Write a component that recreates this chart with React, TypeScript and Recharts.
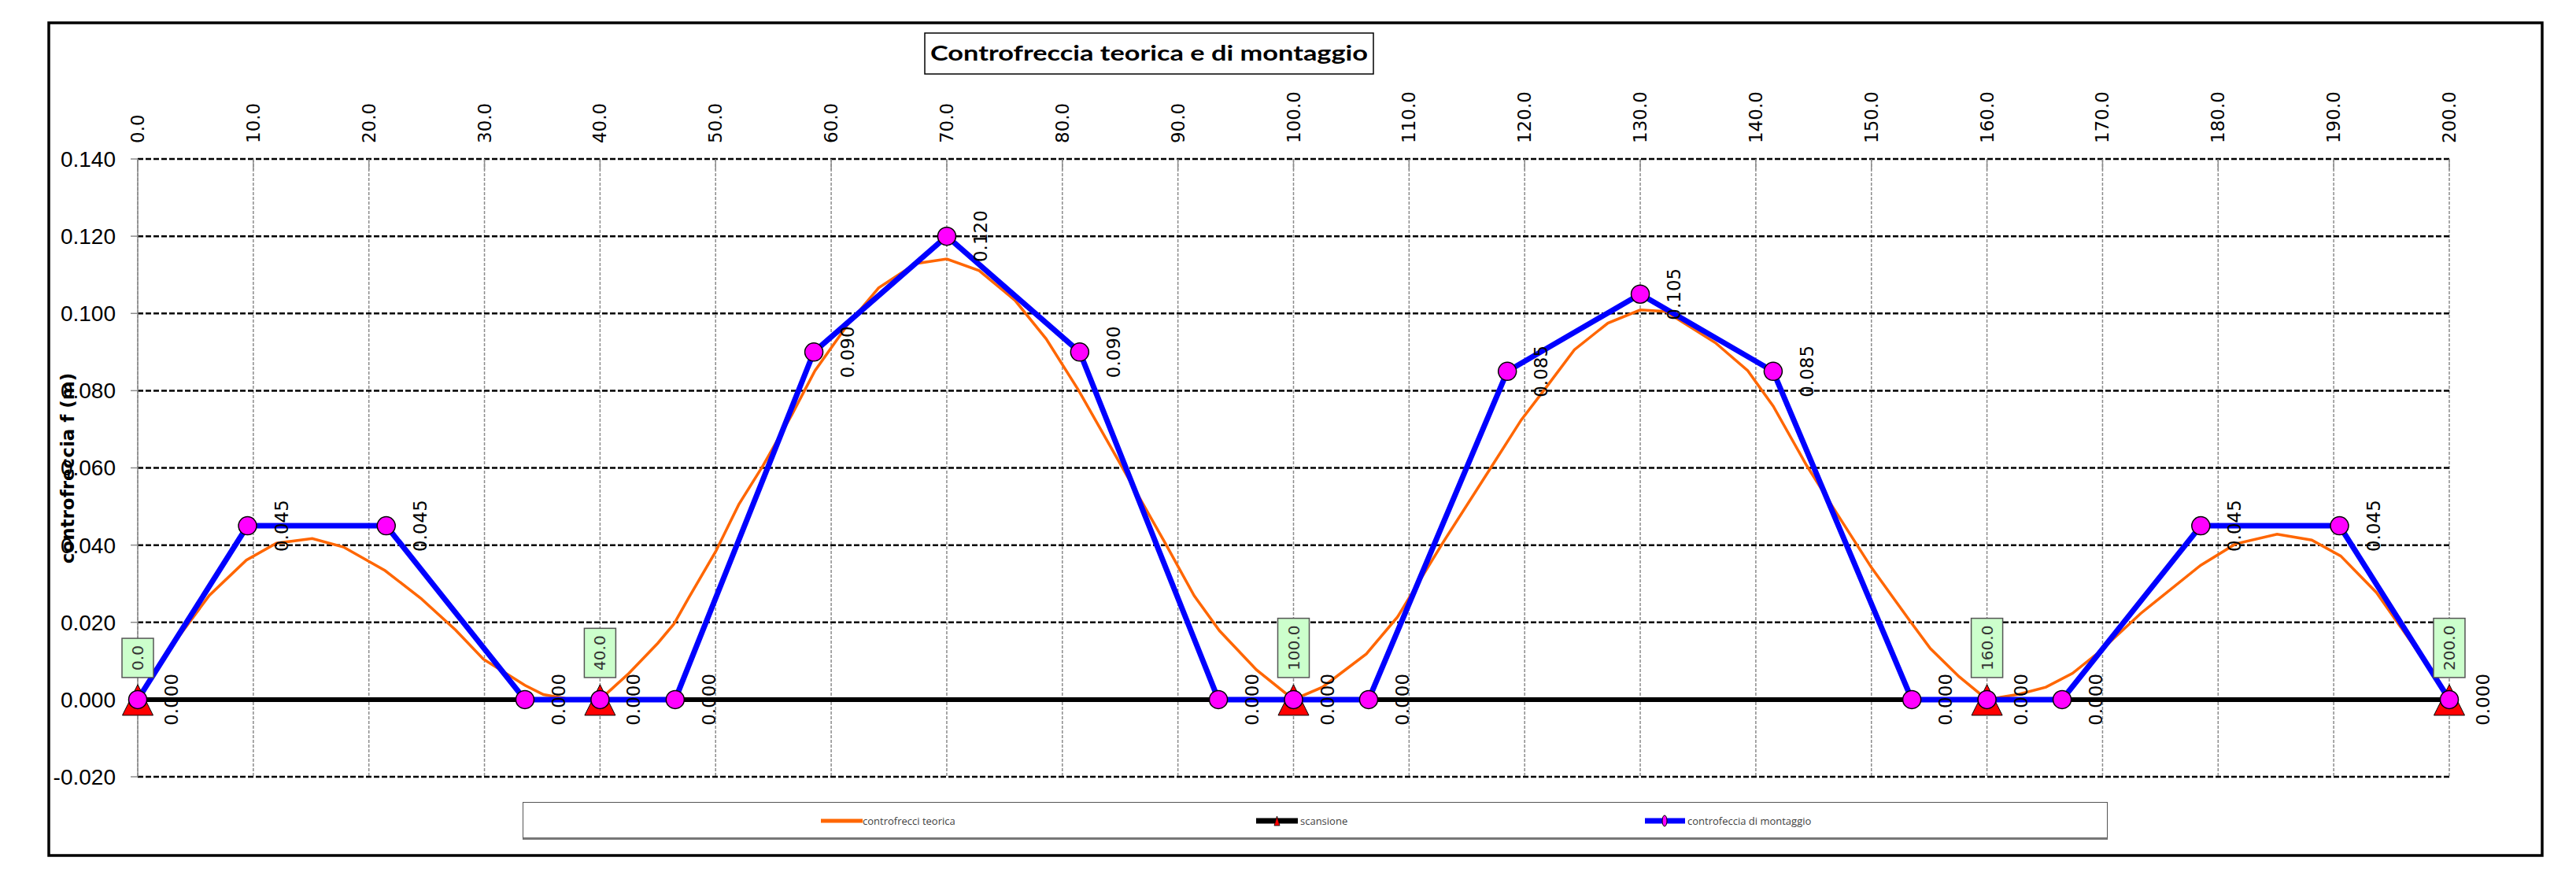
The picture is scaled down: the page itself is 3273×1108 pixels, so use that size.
import React from "react";
import { LineChart, Line, XAxis, YAxis, CartesianGrid, Legend, LabelList } from "recharts";

// ascisse progressive (m) e valori di controfreccia (m)
const xTicks = [0, 10, 20, 30, 40, 50, 60, 70, 80, 90, 100, 110, 120, 130, 140, 150, 160, 170, 180, 190, 200];
const yTicks = [-0.02, 0, 0.02, 0.04, 0.06, 0.08, 0.1, 0.12, 0.14];

const teoricaX = [
  0, 3.1, 6.2, 9.4, 12.0, 15.1, 17.8, 21.4, 24.5, 27.5, 29.9, 33.5, 35.1, 37.0, 40.0,
  42.5, 45.0, 46.4, 47.7, 50.0, 52.0, 54.1, 56.6, 58.6, 61.4, 64.1, 67.3, 70.0,
  72.8, 75.9, 78.6, 81.4, 83.9, 86.4, 88.9, 91.4, 93.6, 96.8, 100.0,
  102.5, 104.0, 106.3, 109.0, 112.9, 117.0, 119.7, 121.8, 124.3, 127.2, 130.0,
  132.2, 136.5, 139.3, 141.5, 144.4, 146.9, 150.0, 153.3, 155.1, 157.6, 160.0,
  162.8, 165.1, 167.4, 169.7, 173.3, 178.5, 181.5, 185.1, 188.1, 190.6, 193.7, 196.8, 200.0,
];
const teoricaY = [
  0, 0.0145, 0.027, 0.0361, 0.0405, 0.0417, 0.0395, 0.0334, 0.0262, 0.018, 0.0105, 0.0037, 0.0013, 0.0003, 0,
  0.0068, 0.0146, 0.0196, 0.0265, 0.0383, 0.0505, 0.0606, 0.0738, 0.0852, 0.097, 0.1066, 0.1129, 0.1141,
  0.1111, 0.1034, 0.0934, 0.0801, 0.0669, 0.0537, 0.0405, 0.0269, 0.0178, 0.0077, 0,
  0.0032, 0.0066, 0.0118, 0.0214, 0.0405, 0.0597, 0.0724, 0.0806, 0.0906, 0.0975, 0.1009,
  0.1005, 0.0924, 0.0852, 0.076, 0.0606, 0.0487, 0.0342, 0.0205, 0.0132, 0.0059, 0,
  0.0014, 0.0032, 0.0068, 0.0123, 0.0223, 0.0348, 0.0403, 0.0428, 0.0413, 0.0372, 0.0277, 0.0145, 0,
];

const montaggioX = [0, 9.5, 21.5, 33.5, 40, 46.5, 58.5, 70, 81.5, 93.5, 100, 106.5, 118.5, 130, 141.5, 153.5, 160, 166.5, 178.5, 190.5, 200];
const montaggioY = [0, 0.045, 0.045, 0, 0, 0, 0.09, 0.12, 0.09, 0, 0, 0, 0.085, 0.105, 0.085, 0, 0, 0, 0.045, 0.045, 0];

const appoggiX = [0, 40, 100, 160, 200];
const appoggiY = [0, 0, 0, 0, 0];

const teoricaData = teoricaX.map((x, i) => ({ x, teorica: teoricaY[i] }));
const montaggioData = montaggioX.map((x, i) => ({ x, montaggio: montaggioY[i] }));
const scansioneData = appoggiX.map((x, i) => ({ x, scansione: appoggiY[i] }));

const labelFont = "DejaVu Sans, Verdana, sans-serif";

function TopTick(props: any) {
  const { x, y, payload } = props;
  const ty = y - 20;
  return (
    <g>
      <line x1={x} x2={x} y1={y} y2={y + 14} stroke="#8c8c8c" strokeWidth={1.5} />
      <text x={x} y={ty} transform={`rotate(-90 ${x} ${ty})`} textAnchor="start" dy="0.35em" fontSize={23} fontFamily={labelFont} fill="#000">
        {Number(payload.value).toFixed(1)}
      </text>
    </g>
  );
}

function Triangle(props: any) {
  const { cx, cy, index } = props;
  return (
    <path key={`tri-${index}`} d={`M${cx},${cy - 19} L${cx + 19.5},${cy + 20} L${cx - 19.5},${cy + 20} Z`} fill="#ff0000" stroke="#000" strokeWidth={1} />
  );
}

function MagentaDot(props: any) {
  const { cx, cy, index } = props;
  return <circle key={`dot-${index}`} cx={cx} cy={cy} r={11.5} fill="#ff00ff" stroke="#000" strokeWidth={1.5} />;
}

function ValueLabel(props: any) {
  const { x, y, value } = props;
  const lx = x + 43;
  return (
    <text x={lx} y={y} transform={`rotate(-90 ${lx} ${y})`} textAnchor="middle" dy="0.35em" fontSize={23} fontFamily={labelFont} fill="#000">
      {Number(value).toFixed(3)}
    </text>
  );
}

function SupportLabel(props: any) {
  const { x, y, value } = props;
  const s = Number(value).toFixed(1);
  const digits = s.length - 1;
  const len = digits * 12.72 + 6.36;
  const h = len + 18;
  const bottom = y - 28;
  const ty = bottom - 9;
  return (
    <g>
      <rect x={x - 20} y={bottom - h} width={40} height={h} fill="#ccffcc" stroke="#555" strokeWidth={1.5} />
      <text x={x} y={ty} transform={`rotate(-90 ${x} ${ty})`} textAnchor="start" dy="0.35em" fontSize={20} fontFamily={labelFont} fill="#333">
        {s}
      </text>
    </g>
  );
}

function LegendBox() {
  const textStyle: React.CSSProperties = {
    position: "absolute",
    top: 14,
    fontSize: 13,
    fontFamily: "Open Sans, sans-serif",
    color: "#404040",
    whiteSpace: "nowrap",
  };
  return (
    <div
      style={{
        position: "relative",
        width: 2014,
        height: 48,
        boxSizing: "border-box",
        border: "1.5px solid #555",
        borderBottom: "3px solid #777",
        background: "#fff",
      }}
    >
      <svg width={2014} height={44} style={{ position: "absolute", left: 0, top: 0 }}>
        <line x1={378} x2={431} y1={23} y2={23} stroke="#ff6600" strokeWidth={5} />
        <line x1={931} x2={984} y1={23} y2={23} stroke="#000" strokeWidth={7} />
        <path d="M957.5,17 L961,29 L954,29 Z" fill="#ff0000" stroke="#000" strokeWidth={0.8} />
        <line x1={1425} x2={1476} y1={23} y2={23} stroke="#0000ff" strokeWidth={7} />
        <ellipse cx={1450} cy={23} rx={3} ry={7} fill="#ff00ff" stroke="#000" strokeWidth={1} />
      </svg>
      <span style={{ ...textStyle, left: 431 }}>controfrecci teorica</span>
      <span style={{ ...textStyle, left: 987 }}>scansione</span>
      <span style={{ ...textStyle, left: 1479 }}>controfeccia di montaggio</span>
    </div>
  );
}

export default function App() {
  return (
    <div style={{ position: "absolute", left: 0, top: 0, width: 3273, height: 1108, background: "#fff" }}>
      <LineChart width={3273} height={1108} margin={{ top: 0, right: 161, bottom: 121, left: 0 }}>
        <CartesianGrid horizontal={false} stroke="#8c8c8c" strokeDasharray="4 2" strokeWidth={1.5} />
        <CartesianGrid vertical={false} stroke="#000" strokeDasharray="7 3" strokeWidth={2.5} />
        <XAxis
          dataKey="x"
          type="number"
          orientation="top"
          domain={[0, 200]}
          ticks={xTicks}
          interval={0}
          height={202}
          axisLine={false}
          tickLine={false}
          tickSize={0}
          tickMargin={0}
          tick={<TopTick />}
        />
        <YAxis
          type="number"
          domain={[-0.02, 0.14]}
          ticks={yTicks}
          interval={0}
          width={175}
          tickSize={9}
          tickMargin={19}
          axisLine={{ stroke: "#8c8c8c", strokeWidth: 1.5 }}
          tickLine={{ stroke: "#8c8c8c", strokeWidth: 1.5 }}
          tick={{ fill: "#000", fontSize: 28, fontFamily: "Liberation Sans, Arial, sans-serif" }}
          tickFormatter={(v) => Number(v).toFixed(3)}
        />
        <Line
          data={teoricaData}
          dataKey="teorica"
          name="controfrecci teorica"
          type="linear"
          stroke="#ff6600"
          strokeWidth={3.5}
          dot={false}
          isAnimationActive={false}
        />
        <Line
          data={scansioneData}
          dataKey="scansione"
          name="scansione"
          type="linear"
          stroke="#000"
          strokeWidth={6}
          dot={Triangle}
          activeDot={false}
          isAnimationActive={false}
        >
          <LabelList dataKey="x" content={SupportLabel} />
        </Line>
        <Line
          data={montaggioData}
          dataKey="montaggio"
          name="controfeccia di montaggio"
          type="linear"
          stroke="#0000ff"
          strokeWidth={7}
          dot={MagentaDot}
          activeDot={false}
          isAnimationActive={false}
        >
          <LabelList dataKey="montaggio" content={ValueLabel} />
        </Line>
        <Legend
          verticalAlign="middle"
          align="center"
          layout="horizontal"
          wrapperStyle={{ position: "absolute", left: 664, top: 1019, width: 2014, height: 48 }}
          content={<LegendBox />}
        />
      </LineChart>
      <svg width={3273} height={1108} style={{ position: "absolute", left: 0, top: 0, pointerEvents: "none" }}>
        <rect x={62} y={29} width={3168} height={1058} fill="none" stroke="#000" strokeWidth={3.5} />
        <rect x={1175} y={42} width={570} height={52} fill="#fff" stroke="#000" strokeWidth={1.5} />
        <text x={1460} y={68} textAnchor="middle" dy="0.35em" fontSize={27} fontWeight="bold" fontFamily="Lato, Open Sans, sans-serif" textLength={556} lengthAdjust="spacingAndGlyphs" fill="#000">
          Controfreccia teorica e di montaggio
        </text>
        <text x={86} y={595} transform="rotate(-90 86 595)" textAnchor="middle" dy="0.35em" fontSize={23} fontWeight="bold" fontFamily={labelFont} fill="#000">
          controfreccia f (m)
        </text>
      </svg>
    </div>
  );
}
